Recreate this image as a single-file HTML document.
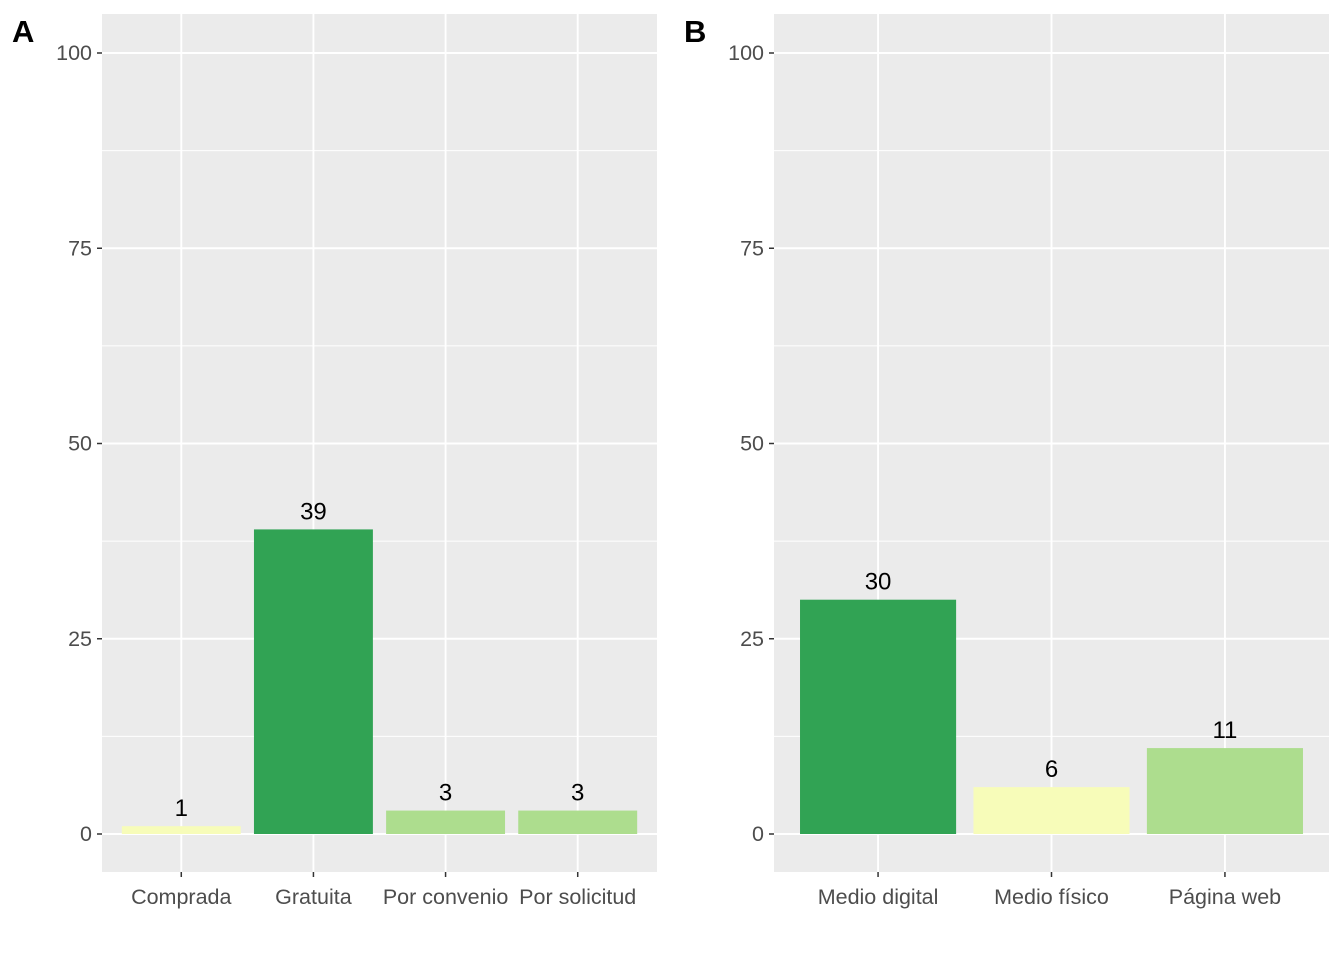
<!DOCTYPE html>
<html><head><meta charset="utf-8"><style>
body{margin:0;background:#fff;}
svg{display:block;font-family:"Liberation Sans",sans-serif;}
</style></head><body>
<svg id="chart" width="1344" height="960"></svg>
<script>
const catsA=["Comprada","Gratuita","Por convenio","Por solicitud"];
const valsA=[1,39,3,3];
const colsA=["#f7fcb9","#31a354","#addd8e","#addd8e"];
const catsB=["Medio digital","Medio físico","Página web"];
const valsB=[30,6,11];
const colsB=["#31a354","#f7fcb9","#addd8e"];
const yTicks=[0,25,50,75,100];
const svg=document.getElementById('chart');
const NS="http://www.w3.org/2000/svg";
function mk(tag,attrs,parent){const e=document.createElementNS(NS,tag);for(const k in attrs)e.setAttribute(k,attrs[k]);(parent||svg).appendChild(e);return e;}
function y(v){return 834-v*7.81;}
function panel(id,label,x0,x1,cats,vals,cols,barFrac){
  const g=mk('g',{});
  
  
  mk('rect',{x:x0,y:14,width:x1-x0,height:858,fill:'#ebebeb'},g);
  for(let i=0;i<yTicks.length-1;i++){const m=(yTicks[i]+yTicks[i+1])/2;mk('line',{x1:x0,x2:x1,y1:y(m),y2:y(m),stroke:'#fff','stroke-width':0.9},g);}
  const step=(x1-x0)/(cats.length+0.2);
  const cx=i=>x0+step*(0.6+i);
  yTicks.forEach(t=>{
    mk('line',{x1:x0,x2:x1,y1:y(t),y2:y(t),stroke:'#fff','stroke-width':1.9},g);
    mk('line',{x1:x0-5,x2:x0,y1:y(t),y2:y(t),stroke:'#333','stroke-width':1.5},g);
    const tx=mk('text',{x:x0-10,y:y(t)+7,'text-anchor':'end','font-size':21.5,fill:'#4d4d4d'},g);
    tx.textContent=t;
    
    
  });
  cats.forEach((c,i)=>{
    mk('line',{x1:cx(i),x2:cx(i),y1:14,y2:872,stroke:'#fff','stroke-width':1.9},g);
    mk('line',{x1:cx(i),x2:cx(i),y1:872,y2:877,stroke:'#333','stroke-width':1.5},g);
    const tx=mk('text',{x:cx(i),y:904,'text-anchor':'middle','font-size':21.5,fill:'#4d4d4d'},g);
    tx.textContent=c;
    
    
  });
  cats.forEach((c,i)=>{
    const w=step*barFrac;
    const r=mk('rect',{x:cx(i)-w/2,y:y(vals[i]),width:w,height:y(0)-y(vals[i]),fill:cols[i]},g);
    
    
    const t=mk('text',{x:cx(i),y:y(vals[i])-10,'text-anchor':'middle','font-size':24,fill:'#000'},g);
    t.textContent=vals[i];
    
    
  });
  const L=mk('text',{x:x0-90,y:42,'font-size':31,'font-weight':'bold',fill:'#000'},g);
  L.textContent=label;
  
  
}
panel('a','A',102,657,catsA,valsA,colsA,0.9);
panel('b','B',774,1329,catsB,valsB,colsB,0.9);
</script>
</body></html>
